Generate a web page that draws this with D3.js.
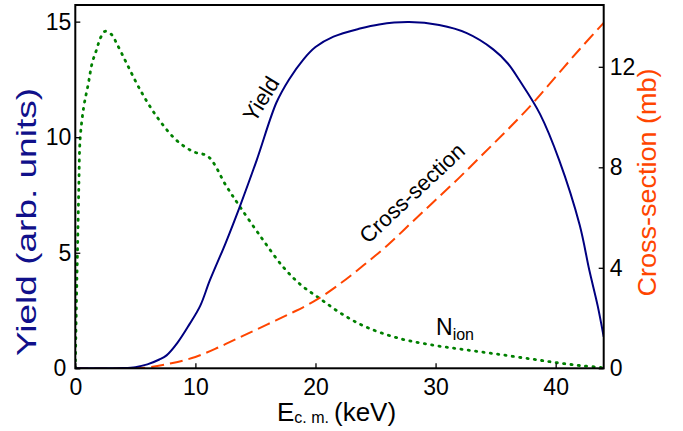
<!DOCTYPE html>
<html>
<head>
<meta charset="utf-8">
<script src="https://cdn.jsdelivr.net/npm/d3@7"></script>
<style>
  body { margin: 0; background: #fff; }
  svg text { font-family: "Liberation Sans", Arial, sans-serif; }
</style>
</head>
<body>
<svg id="chart" width="683" height="431"></svg>
<script>
// Yield (left axis, arb. units)
const yieldE = [0, 2, 4, 5, 6, 7, 7.6, 8.5, 9.5, 10.4, 11.2, 12.5, 13.7, 15.1, 16.75, 17.8, 18.97, 20, 21.5, 23.7, 25.3, 27.8, 30.3, 32.6, 34.8, 36, 37, 38.7, 40.3, 42, 42.8, 43.5, 44];
const yieldV = [0, 0, 0.01, 0.05, 0.17, 0.38, 0.56, 1.1, 1.9, 2.7, 3.8, 5.4, 7.0, 9.0, 11.5, 12.5, 13.35, 13.9, 14.35, 14.7, 14.88, 14.98, 14.85, 14.5, 13.8, 13.2, 12.45, 11.0, 9.0, 6.2, 4.25, 2.7, 1.36];

// Cross-section (right axis, mb)
const csE = [0, 4, 6, 8, 10, 12, 14, 16, 18, 20, 22, 24, 26, 28, 30, 32, 34, 36, 38, 40, 42, 44];
const csV = [0, 0, 0.03, 0.2, 0.45, 0.85, 1.3, 1.75, 2.2, 2.7, 3.35, 4.1, 4.9, 5.8, 6.7, 7.6, 8.55, 9.5, 10.5, 11.6, 12.7, 13.75];

// N_ion (drawn on left scale)
const nE = [0, 0.1, 0.2, 0.3, 0.4, 0.7, 1.08, 1.4, 1.78, 2.1, 2.47, 3, 3.5, 4.27, 5.4, 6.77, 8.4, 9.8, 11.07, 12.6, 13.7, 15.5, 17.3, 18.8, 20.36, 22.2, 24.2, 27, 29.8, 32.5, 35.3, 38, 40, 42, 43.8, 44];
const nV = [0, 3, 5.5, 8, 9.9, 11.3, 12.3, 13.2, 13.8, 14.3, 14.58, 14.45, 14.0, 13.2, 12.05, 10.9, 9.88, 9.38, 9.16, 7.86, 7.0, 5.65, 4.39, 3.6, 3.02, 2.35, 1.79, 1.29, 1.0, 0.8, 0.6, 0.4, 0.25, 0.12, 0.03, 0];

const xTicks = [0, 10, 20, 30, 40];
const yLeftTicks = [0, 5, 10, 15];
const yRightTicks = [0, 4, 8, 12];

const svg = d3.select("#chart");
const pL = 75.3, pR = 603.7, pT = 5, pB = 368.3;

const x = d3.scaleLinear().domain([0, 44]).range([pL, pR]);
const yL = d3.scaleLinear().domain([0, 15.72]).range([pB, pT]);
const yR = d3.scaleLinear().domain([0, 14.46]).range([pB, pT]);

svg.append("clipPath").attr("id", "clip")
   .append("rect").attr("x", pL).attr("y", pT)
   .attr("width", pR - pL).attr("height", pB - pT);

const plot = svg.append("g").attr("clip-path", "url(#clip)");

function series(es, vs) { return es.map((e, i) => ({e: e, v: vs[i]})); }

const smooth = d3.curveCatmullRom.alpha(0.5);
const lineL = d3.line().x(d => x(d.e)).y(d => yL(d.v)).curve(smooth);
const lineR = d3.line().x(d => x(d.e)).y(d => yR(d.v)).curve(smooth);

plot.append("path").datum(series(nE, nV))
    .attr("d", lineL)
    .attr("fill", "none")
    .attr("stroke", "#008000")
    .attr("stroke-width", 2.8)
    .attr("stroke-linecap", "round")
    .attr("stroke-dasharray", "1.2,6.2");

plot.append("path").datum(series(csE, csV))
    .attr("d", lineR)
    .attr("fill", "none")
    .attr("stroke", "#ff4500")
    .attr("stroke-width", 2)
    .attr("stroke-dasharray", "13,6");

plot.append("path").datum(series(yieldE, yieldV))
    .attr("d", lineL)
    .attr("fill", "none")
    .attr("stroke", "#000080")
    .attr("stroke-width", 2);

// axes, ticks pointing inward
const fs = "23px";
const gx = svg.append("g").attr("transform", "translate(0," + pB + ")")
    .call(d3.axisBottom(x).tickValues(xTicks).tickSizeInner(-5).tickSizeOuter(0).tickPadding(10));
const gl = svg.append("g").attr("transform", "translate(" + pL + ",0)")
    .call(d3.axisLeft(yL).tickValues(yLeftTicks).tickSizeInner(-5).tickSizeOuter(0).tickPadding(4));
const gr = svg.append("g").attr("transform", "translate(" + pR + ",0)")
    .call(d3.axisRight(yR).tickValues(yRightTicks).tickSizeInner(-5).tickSizeOuter(0).tickPadding(6));

[gx, gl, gr].forEach(g => {
  g.select(".domain").remove();
  g.selectAll(".tick line").attr("stroke", "#000").attr("stroke-width", 1.3);
  g.selectAll(".tick text").attr("fill", "#000").style("font-size", fs)
   .style("font-family", "'Liberation Sans', Arial, sans-serif");
});
gl.selectAll(".tick text").filter(d => d === 0).attr("x", -9);

// frame
svg.append("rect")
   .attr("x", pL).attr("y", pT)
   .attr("width", pR - pL).attr("height", pB - pT)
   .attr("fill", "none").attr("stroke", "#000").attr("stroke-width", 2);

// axis titles
svg.append("text")
   .attr("transform", "translate(36,222) rotate(-90)")
   .attr("text-anchor", "middle")
   .attr("fill", "#10108a")
   .style("font-size", "28px")
   .attr("textLength", 268).attr("lengthAdjust", "spacingAndGlyphs")
   .text("Yield (arb. units)");

svg.append("text")
   .attr("transform", "translate(656,182.5) rotate(-90)")
   .attr("text-anchor", "middle")
   .attr("fill", "#ff4500")
   .style("font-size", "26px")
   .attr("textLength", 228).attr("lengthAdjust", "spacingAndGlyphs")
   .text("Cross-section (mb)");

const xt = svg.append("text").attr("x", 277).attr("y", 421).attr("fill", "#000").style("font-size", "26px");
xt.append("tspan").text("E");
xt.append("tspan").style("font-size", "16px").attr("dy", 2).text("c. m.");
xt.append("tspan").attr("x", 334).attr("dy", -2).text("(keV)");

// curve annotations
svg.append("text")
   .attr("transform", "translate(261,99) rotate(-58)")
   .attr("text-anchor", "middle").attr("dy", "0.35em")
   .attr("fill", "#000").style("font-size", "22px")
   .text("Yield");

svg.append("text")
   .attr("transform", "translate(412,193) rotate(-43)")
   .attr("text-anchor", "middle").attr("dy", "0.35em")
   .attr("fill", "#000").style("font-size", "22px")
   .text("Cross-section");

const nt = svg.append("text").attr("x", 436).attr("y", 335).attr("fill", "#000").style("font-size", "23px");
nt.append("tspan").text("N");
nt.append("tspan").style("font-size", "16px").attr("dy", 5).text("ion");
</script>
</body>
</html>
